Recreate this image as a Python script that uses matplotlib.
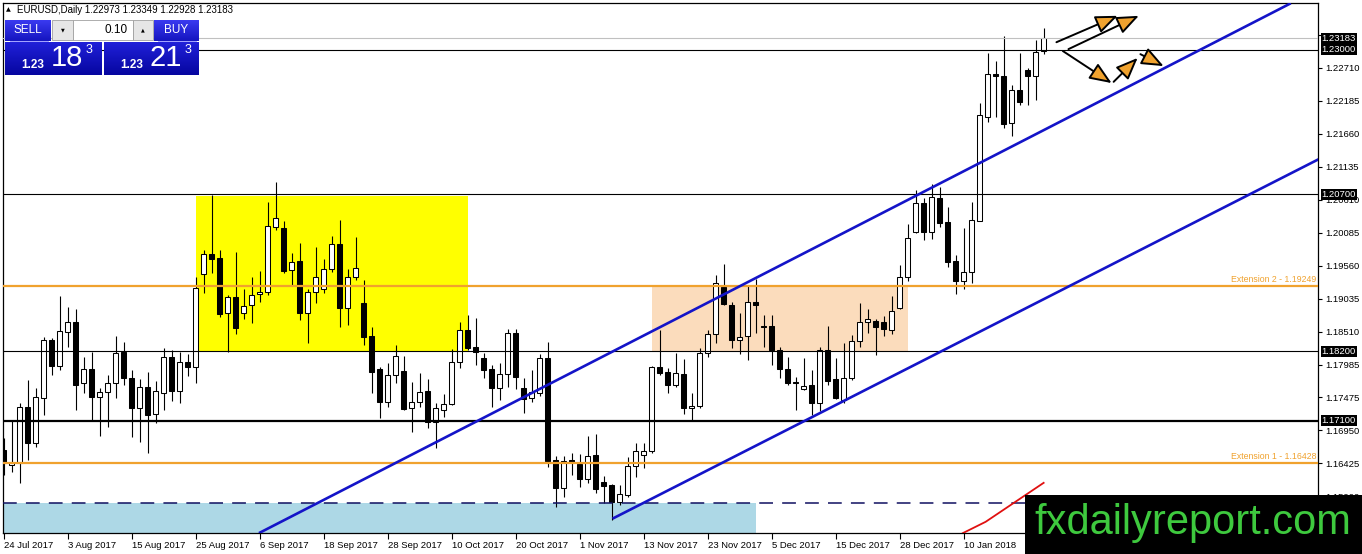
import numpy as np
import pandas as pd
import matplotlib
matplotlib.use('Agg')
import matplotlib.pyplot as plt
from matplotlib.patches import Rectangle, FancyArrowPatch
from matplotlib.colors import LinearSegmentedColormap

plt.rcParams['font.family'] = ['Liberation Sans', 'DejaVu Sans']

# EURUSD daily bars (24 Jul 2017 onwards)
opens = [1.1663, 1.1639, 1.1642, 1.1731, 1.1674, 1.1746, 1.1838, 1.1797, 1.1851, 1.1867,
         1.1770, 1.1792, 1.1748, 1.1756, 1.1770, 1.1819, 1.1778, 1.1730, 1.1763, 1.1720,
         1.1754, 1.1811, 1.1757, 1.1803, 1.1795, 1.1943, 1.1975, 1.1969, 1.1881, 1.1907,
         1.1881, 1.1894, 1.1911, 1.1915, 1.2018, 1.2017, 1.1950, 1.1964, 1.1881, 1.1915,
         1.1919, 1.1951, 1.1991, 1.1889, 1.1939, 1.1897, 1.1845, 1.1792, 1.1740, 1.1783,
         1.1789, 1.1730, 1.1740, 1.1757, 1.1708, 1.1727, 1.1736, 1.1803, 1.1854, 1.1827,
         1.1810, 1.1792, 1.1762, 1.1784, 1.1849, 1.1762, 1.1746, 1.1754, 1.1810, 1.1647,
         1.1603, 1.1647, 1.1641, 1.1617, 1.1655, 1.1612, 1.1608, 1.1581, 1.1592, 1.1638,
         1.1655, 1.1662, 1.1795, 1.1787, 1.1767, 1.1784, 1.1730, 1.1733, 1.1818, 1.1848,
         1.1923, 1.1894, 1.1838, 1.1845, 1.1899, 1.1861, 1.1861, 1.1822, 1.1792, 1.1771,
         1.1760, 1.1767, 1.1738, 1.1822, 1.1776, 1.1743, 1.1778, 1.1837, 1.1867, 1.1869,
         1.1867, 1.1854, 1.1889, 1.1939, 1.2010, 1.2056, 1.2010, 1.2064, 1.2026, 1.1964,
         1.1932, 1.1946, 1.2028, 1.2193, 1.2262, 1.2258, 1.2184, 1.2236, 1.2268, 1.2258,
         1.22973]
highs = [1.1682, 1.1711, 1.1738, 1.1775, 1.1762, 1.1843, 1.1841, 1.1908, 1.1891, 1.1888,
         1.1811, 1.1819, 1.1762, 1.1783, 1.1844, 1.1835, 1.1791, 1.1776, 1.1787, 1.1773,
         1.1826, 1.1822, 1.1819, 1.1816, 1.1939, 1.1981, 1.2069, 1.1981, 1.1910, 1.1978,
         1.1919, 1.1939, 1.1948, 1.2058, 1.2090, 1.2028, 1.1977, 1.1993, 1.1919, 1.1986,
         1.1967, 1.2004, 1.2029, 1.1951, 1.2002, 1.1934, 1.1859, 1.1795, 1.1802, 1.1830,
         1.1813, 1.1771, 1.1786, 1.1776, 1.1738, 1.1752, 1.1824, 1.1867, 1.1878, 1.1873,
         1.1818, 1.1799, 1.1802, 1.1856, 1.1856, 1.1778, 1.1791, 1.1816, 1.1835, 1.1654,
         1.1654, 1.1658, 1.1657, 1.1686, 1.1689, 1.1622, 1.1609, 1.1608, 1.1652, 1.1674,
         1.1674, 1.1797, 1.1854, 1.1794, 1.1818, 1.1808, 1.1754, 1.1826, 1.1854, 1.1942,
         1.1959, 1.1899, 1.1881, 1.1926, 1.1935, 1.1878, 1.1878, 1.1827, 1.1811, 1.1779,
         1.1810, 1.1791, 1.1827, 1.1861, 1.1810, 1.1834, 1.1846, 1.1897, 1.1888, 1.1872,
         1.1876, 1.1908, 1.1958, 1.2023, 1.2077, 1.2064, 1.2086, 1.2082, 1.2050, 1.1973,
         1.2016, 1.2058, 1.2215, 1.2295, 1.2282, 1.2322, 1.2244, 1.2295, 1.2271, 1.2316,
         1.23349]
lows = [1.1623, 1.1628, 1.1611, 1.1647, 1.1668, 1.1719, 1.1783, 1.1791, 1.1827, 1.1727,
        1.1754, 1.1711, 1.1685, 1.1700, 1.1746, 1.1767, 1.1684, 1.1676, 1.1658, 1.1706,
        1.1727, 1.1741, 1.1738, 1.1781, 1.1770, 1.1913, 1.1945, 1.1875, 1.1819, 1.1848,
        1.1872, 1.1865, 1.1899, 1.1910, 1.2013, 1.1945, 1.1926, 1.1870, 1.1834, 1.1897,
        1.1913, 1.1946, 1.1859, 1.1862, 1.1934, 1.1830, 1.1754, 1.1714, 1.1731, 1.1770,
        1.1727, 1.1692, 1.1731, 1.1698, 1.1666, 1.1716, 1.1735, 1.1794, 1.1822, 1.1798,
        1.1778, 1.1731, 1.1743, 1.1763, 1.1760, 1.1722, 1.1740, 1.1749, 1.1636, 1.1573,
        1.1589, 1.1623, 1.1604, 1.1611, 1.1595, 1.1579, 1.1552, 1.1576, 1.1589, 1.1620,
        1.1635, 1.1658, 1.1783, 1.1754, 1.1763, 1.1720, 1.1709, 1.1730, 1.1811, 1.1834,
        1.1894, 1.1826, 1.1816, 1.1806, 1.1849, 1.1827, 1.1798, 1.1778, 1.1767, 1.1727,
        1.1759, 1.1719, 1.1725, 1.1767, 1.1744, 1.1738, 1.1775, 1.1827, 1.1849, 1.1814,
        1.1845, 1.1848, 1.1888, 1.1932, 1.2008, 1.1997, 1.1999, 1.2018, 1.1954, 1.1911,
        1.1919, 1.1929, 1.2028, 1.2185, 1.2193, 1.2176, 1.2163, 1.2212, 1.2212, 1.2220,
        1.22928]
closes = [1.1642, 1.1642, 1.1731, 1.1674, 1.1748, 1.1838, 1.1797, 1.1853, 1.1867, 1.1767,
          1.1792, 1.1748, 1.1756, 1.1770, 1.1818, 1.1778, 1.1730, 1.1763, 1.1719, 1.1757,
          1.1811, 1.1757, 1.1803, 1.1795, 1.1921, 1.1975, 1.1967, 1.1880, 1.1907, 1.1857,
          1.1892, 1.1910, 1.1915, 1.2020, 1.2032, 1.1948, 1.1962, 1.1881, 1.1915, 1.1939,
          1.1951, 1.1991, 1.1889, 1.1939, 1.1953, 1.1843, 1.1787, 1.1740, 1.1783, 1.1813,
          1.1728, 1.1740, 1.1756, 1.1708, 1.1730, 1.1736, 1.1803, 1.1854, 1.1826, 1.1819,
          1.1791, 1.1762, 1.1784, 1.1849, 1.1779, 1.1745, 1.1756, 1.1810, 1.1646, 1.1603,
          1.1646, 1.1644, 1.1617, 1.1654, 1.1601, 1.1606, 1.1581, 1.1593, 1.1638, 1.1662,
          1.1662, 1.1795, 1.1786, 1.1767, 1.1786, 1.1730, 1.1733, 1.1818, 1.1848, 1.1929,
          1.1896, 1.1838, 1.1843, 1.1899, 1.1894, 1.1859, 1.1822, 1.1792, 1.1770, 1.1770,
          1.1765, 1.1738, 1.1822, 1.1773, 1.1746, 1.1778, 1.1837, 1.1867, 1.1872, 1.1859,
          1.1856, 1.1884, 1.1939, 1.2000, 1.2056, 1.2010, 1.2066, 1.2024, 1.1962, 1.1932,
          1.1946, 1.2029, 1.2196, 1.2262, 1.2258, 1.2182, 1.2236, 1.2217, 1.2258, 1.2296,
          1.23183]

# trading days (no Christmas / New Year bars)
holidays = ['2017-12-25', '2018-01-01']
dates = pd.bdate_range('2017-07-24', periods=len(opens), freq='C', holidays=holidays)
label_step = 8

# right price scale (the top one sits under the bid label, so no text)
price_ticks = [1.23235, 1.22710, 1.22185, 1.21660, 1.21135, 1.20610, 1.20085, 1.19560,
               1.19035, 1.18510, 1.17985, 1.17475, 1.16950, 1.16425, 1.15900]
hidden_ticks = [1.23235]

# drawn objects
bid = 1.23183
black_levels = [1.23000, 1.20700, 1.18200]
support_level = 1.17100
ext_levels = [1.16428, 1.19249]
ext_names = ['Extension 1', 'Extension 2']
dash_level = 1.1579

yellow_zone = [24, 58, 1.1820, 1.2067]     # bar from, bar to, low, high
peach_zone = [81, 113, 1.1820, 1.19249]
blue_zone = [-2, 94, 1.1500, 1.1579]

upper_channel = ([31.9, 160.9], [1.1531, 1.2374])
lower_channel = ([76.1, 164.4], [1.1554, 1.2126])
red_line = ([119.9, 122.75, 130.0], [1.1531, 1.1549, 1.1611])

arrows = [((131.6, 1.2312), (139.25, 1.2354)),
          ((133.1, 1.2301), (141.9, 1.2354)),
          ((132.4, 1.2298), (138.5, 1.2247)),
          ((138.75, 1.2249), (141.75, 1.2287)),
          ((142.1, 1.2293), (145.0, 1.2274))]

W, H = 1362, 554
fig = plt.figure(figsize=(W / 100, H / 100), dpi=100)
fig.patch.set_facecolor('white')
ax = fig.add_axes([3 / W, 21 / H, 1315 / W, 530 / H])

orange = '#f0a22e'
blue = '#1414c8'

### zones (behind candles)
for z, col in [(yellow_zone, '#ffff00'), (peach_zone, '#fbdcbc'), (blue_zone, '#add8e6')]:
    ax.add_patch(Rectangle((z[0], z[2]), z[1] - z[0], z[3] - z[2], fc=col, ec='none', zorder=1))

### candles
o = np.array(opens); h = np.array(highs); l = np.array(lows); c = np.array(closes)
x = np.arange(len(o))
up = c >= o
ax.vlines(x, l, h, color='black', lw=0.8, zorder=3)
body_lo = np.minimum(o, c)
body_h = np.maximum(np.abs(c - o), 0.00006)
ax.bar(x, body_h, bottom=body_lo, width=0.6, color=np.where(up, 'white', 'black'),
       edgecolor='black', linewidth=0.75, zorder=4)

### horizontal levels
ax.axhline(bid, color='#c0c0c0', lw=0.8, zorder=5)
for lv in black_levels:
    ax.axhline(lv, color='black', lw=0.8, zorder=5)
ax.axhline(support_level, color='black', lw=1.6, zorder=5)
for lv, nm in zip(ext_levels, ext_names):
    ax.axhline(lv, color=orange, lw=1.6, zorder=5)
    ax.text(164.1, lv + 0.00025, '%s - %.5f' % (nm, lv), ha='right', va='bottom',
            color=orange, fontsize=6.3, zorder=6)
ax.axhline(dash_level, color='#101060', lw=1.1, dashes=(9, 6), zorder=5)

### trend lines
ax.plot(*upper_channel, color=blue, lw=1.9, zorder=6, solid_capstyle='butt')
ax.plot(*lower_channel, color=blue, lw=1.9, zorder=6, solid_capstyle='butt')
ax.plot(*red_line, color='#e01010', lw=1.3, zorder=6)

### arrows
for (p0, p1) in arrows:
    ax.add_patch(FancyArrowPatch(p0, p1, arrowstyle='-|>,head_length=1.35,head_width=0.55',
                                 mutation_scale=10, fc=orange, ec='black', lw=1.4,
                                 shrinkA=0, shrinkB=0, zorder=7, clip_on=False))

### axes
ax.set_xlim(-0.1, 164.3)
ax.set_ylim(1.15312, 1.23744)
for s in ax.spines.values():
    s.set_linewidth(0.9)
ax.yaxis.tick_right()
ax.set_yticks(price_ticks)
ax.set_yticklabels(['' if t in hidden_ticks else '%.5f' % t for t in price_ticks])
ax.tick_params(axis='y', length=3, width=0.8, pad=2, labelsize=6.8)
xt = list(range(0, 121, label_step))
ax.set_xticks(xt)
ax.set_xticklabels(['%d %s' % (dates[i].day, dates[i].strftime('%b %Y')) for i in xt])
ax.tick_params(axis='x', length=4, width=0.8, pad=2, labelsize=6.8)
for lbl in ax.get_xticklabels():
    lbl.set_ha('left')

# price labels on the scale
ytr = ax.get_yaxis_transform()
for lv in [bid, 1.23000, 1.20700, 1.18200, support_level]:
    ax.text(1.0028, lv, '%.5f' % lv, transform=ytr, ha='left', va='center', color='white',
            fontsize=6.8, clip_on=False, zorder=10,
            bbox=dict(boxstyle='square,pad=0.12', fc='black', ec='none'))

### overlay: title, trade panel, logo
ov = fig.add_axes([0, 0, 1, 1], zorder=10)
ov.axis('off')


def grad_box(x0, y0, x1, y1, top, bottom):
    cm = LinearSegmentedColormap.from_list('g', [top, bottom])
    ov.imshow(np.linspace(0, 1, 32).reshape(-1, 1), cmap=cm, extent=[x0, x1, y1, y0],
              aspect='auto', zorder=2, interpolation='bilinear')


ov.text(8, 10, '\u25b2', fontsize=4.5, ha='center', va='center', family=['DejaVu Sans'])
ov.text(17, 10, 'EURUSD,Daily 1.22973 1.23349 1.22928 1.23183', fontsize=7, va='center')

grad_box(5, 20, 51, 41, '#3a3af0', '#1515c0')
grad_box(154, 20, 199, 41, '#3a3af0', '#1515c0')
grad_box(5, 42, 102, 75, '#2020d8', '#0606a0')
grad_box(104, 42, 199, 75, '#2020d8', '#0606a0')
ov.plot([10, 48], [40.5, 40.5], color='#9090ff', lw=0.6, zorder=3)
ov.plot([158, 196], [40.5, 40.5], color='#9090ff', lw=0.6, zorder=3)
ov.add_patch(Rectangle((52, 20), 21, 20, fc='#e6e6e6', ec='#a0a0a0', lw=0.6, zorder=2))
ov.add_patch(Rectangle((73, 20), 60, 20, fc='white', ec='#a0a0a0', lw=0.6, zorder=2))
ov.add_patch(Rectangle((133, 20), 20, 20, fc='#e6e6e6', ec='#a0a0a0', lw=0.6, zorder=2))
ov.text(62.5, 30, '\u25bc', fontsize=3.5, ha='center', va='center', family=['DejaVu Sans'], zorder=4)
ov.text(143, 30, '\u25b2', fontsize=3.5, ha='center', va='center', family=['DejaVu Sans'], zorder=4)
ov.text(128, 30, '0.10', fontsize=8.5, ha='right', va='center', zorder=4)
ov.text(28, 30, 'SELL', fontsize=8.5, color='white', ha='center', va='center', zorder=4)
ov.text(176, 30, 'BUY', fontsize=8.5, color='white', ha='center', va='center', zorder=4)
for bx, big in [(5, '18'), (104, '21')]:
    ov.text(bx + 28, 65, '1.23', fontsize=8.5, color='white', ha='center', va='center',
            weight='bold', zorder=4)
    ov.text(bx + 62, 58, big, fontsize=21, color='white', ha='center', va='center', zorder=4)
    ov.text(bx + 84, 50, '3', fontsize=9, color='white', ha='center', va='center', zorder=4)

ov.add_patch(Rectangle((1025, 495), 337, 59, fc='black', ec='none', zorder=2))
ov.text(1193, 523, 'fxdailyreport.com', fontsize=30, color='#3ec93e', ha='center',
        va='center', zorder=4)

ov.set_xlim(0, W)
ov.set_ylim(H, 0)

fig.savefig('out.png', dpi=100)
